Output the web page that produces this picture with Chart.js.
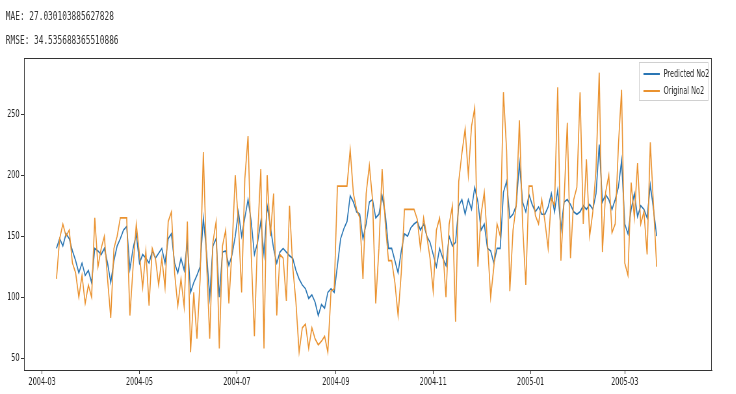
<!DOCTYPE html>
<html>
<head>
<meta charset="utf-8">
<script src="https://cdn.jsdelivr.net/npm/chart.js@4.4.0/dist/chart.umd.min.js"></script>
<style>
  html, body { margin: 0; padding: 0; background: #fff; }
  body { width: 736px; height: 394px; overflow: hidden; position: relative; }
  #wrap { position: absolute; left: 0; top: 0; width: 1132px; height: 394px; transform: scaleX(0.65); transform-origin: 0 0; }
  #myChart { position: absolute; left: 0; top: 0; display: block; }
  .metric { position: absolute; left: 9px; font-family: "DejaVu Sans Mono", monospace; font-size: 12px; color: #333; white-space: nowrap; }
</style>
</head>
<body>
<div id="wrap">
  <canvas id="myChart" width="1132" height="394"></canvas>
  <div class="metric" style="top:9px">MAE: 27.030103885627828</div>
  <div class="metric" style="top:33px">RMSE: 34.535688365510886</div>
</div>
<script>
// days counted from 2004-03-01, one point every 2 days
var startDay = 9;
var stepDays = 2;

var predicted = [
  140,148,142,152,148,138,130,120,128,118,122,112,140,138,135,140,128,112,130,142,148,155,158,
  123,140,152,128,135,132,128,138,132,136,140,128,148,152,128,120,132,122,145,104,112,118,125,165,
  137,100,142,148,100,137,138,126,135,150,170,150,165,180,162,135,145,162,135,175,158,140,128,
  137,140,137,134,132,122,115,110,107,99,102,96,85,94,91,104,107,104,126,148,156,162,183,
  178,170,168,148,160,178,180,165,168,183,168,140,140,130,120,138,152,150,157,160,162,155,160,150,
  145,135,125,140,132,126,150,142,145,175,180,168,180,172,190,178,155,160,140,138,128,140,140,
  186,195,165,168,175,210,178,170,184,176,170,174,168,168,174,185,170,188,155,178,180,176,170,168,
  170,175,172,176,172,185,225,178,184,180,172,180,190,212,160,152,172,185,166,175,172,165,192,172,150
];

var original = [
  115,148,160,150,155,128,120,100,118,95,110,100,165,125,140,150,115,83,140,150,165,165,165,
  85,125,160,135,108,138,93,140,132,110,132,108,162,170,120,93,115,92,162,55,104,66,115,219,
  130,66,145,162,58,142,155,95,140,200,160,104,197,232,135,68,150,205,58,200,150,185,85,
  135,132,97,175,125,96,55,75,78,58,75,66,61,64,68,55,105,107,191,191,191,191,221,
  185,172,165,115,185,208,180,95,140,205,160,130,130,112,85,120,172,172,172,172,164,140,165,150,
  132,105,155,165,140,100,160,175,80,195,218,238,200,240,255,125,168,186,145,100,125,160,150,
  268,220,105,155,175,245,160,110,191,191,167,160,180,162,140,181,175,272,130,180,243,132,180,190,
  268,160,213,150,170,205,284,137,186,200,153,160,224,270,128,118,194,165,210,160,170,135,227,175,125
];

var tickDays = [0, 61, 122, 184, 245, 306, 365];
var tickLabels = ['2004-03', '2004-05', '2004-07', '2004-09', '2004-11', '2005-01', '2005-03'];
var yTicks = [50, 100, 150, 200, 250];

function toPoints(arr) {
  return arr.map(function(v, i) { return {x: startDay + i * stepDays, y: v}; });
}

var frameAndLegend = {
  id: 'frameAndLegend',
  afterDraw: function(chart) {
    var ctx = chart.ctx, a = chart.chartArea;
    ctx.save();
    ctx.strokeStyle = '#333';
    ctx.lineWidth = 1;
    ctx.strokeRect(a.left + 0.5, a.top + 0.5, a.right - a.left - 1, a.bottom - a.top);

    var x0 = 983, y0 = 62, w = 106, h = 38;
    ctx.fillStyle = 'rgba(255,255,255,0.85)';
    ctx.fillRect(x0, y0, w, h);
    ctx.strokeStyle = '#d0d0d0';
    ctx.strokeRect(x0 + 0.5, y0 + 0.5, w, h);
    ctx.font = '10px "DejaVu Sans"';
    ctx.textBaseline = 'middle';
    chart.data.datasets.forEach(function(ds, i) {
      var y = y0 + 12 + i * 17;
      ctx.strokeStyle = ds.borderColor;
      ctx.lineWidth = 2;
      ctx.beginPath();
      ctx.moveTo(x0 + 7, y);
      ctx.lineTo(x0 + 32, y);
      ctx.stroke();
      ctx.fillStyle = '#222';
      ctx.fillText(ds.label, x0 + 38, y);
    });
    ctx.restore();
  }
};

var ctx = document.getElementById('myChart').getContext('2d');
var myChart = new Chart(ctx, {
  type: 'line',
  data: {
    datasets: [{
      label: 'Predicted No2',
      data: toPoints(predicted),
      borderColor: '#2a76b4',
      borderWidth: 1.6,
      pointRadius: 0,
      tension: 0,
      order: 1
    },
    {
      label: 'Original No2',
      data: toPoints(original),
      borderColor: '#ea922f',
      borderWidth: 1.6,
      pointRadius: 0,
      tension: 0,
      order: 0
    }]
  },
  options: {
    responsive: false,
    animation: false,
    devicePixelRatio: 1,
    layout: { padding: { left: 0, top: 58, right: 37, bottom: 0 } },
    plugins: { legend: { display: false }, tooltip: { enabled: false } },
    scales: {
      x: {
        type: 'linear',
        min: -11.3,
        max: 419.5,
        afterBuildTicks: function(s) { s.ticks = tickDays.map(function(d) { return {value: d}; }); },
        afterFit: function(s) { s.height = 24; },
        grid: { drawOnChartArea: false, drawTicks: true, tickLength: 4, color: '#333' },
        border: { display: true, color: '#333', width: 1 },
        ticks: {
          autoSkip: false,
          maxRotation: 0,
          padding: 2,
          color: '#222',
          font: { family: 'DejaVu Sans', size: 10 },
          callback: function(v) { var i = tickDays.indexOf(v); return i >= 0 ? tickLabels[i] : ''; }
        }
      },
      y: {
        min: 40.4,
        max: 296,
        afterBuildTicks: function(s) { s.ticks = yTicks.map(function(v) { return {value: v}; }); },
        afterFit: function(s) { s.width = 37; },
        grid: { drawOnChartArea: false, drawTicks: true, tickLength: 5, color: '#333' },
        border: { display: true, color: '#333', width: 1 },
        ticks: {
          padding: 2,
          color: '#222',
          font: { family: 'DejaVu Sans', size: 10 }
        }
      }
    }
  },
  plugins: [frameAndLegend]
});
</script>
</body>
</html>
